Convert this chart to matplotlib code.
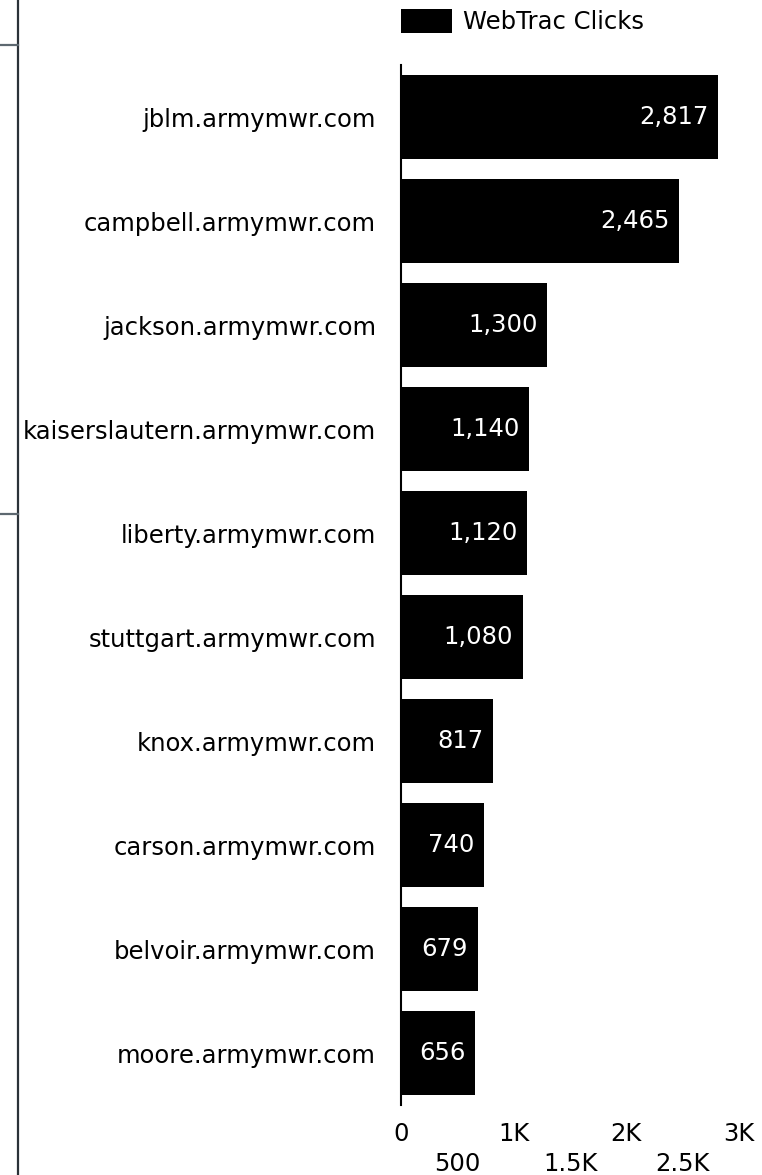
import numpy as np
import matplotlib
matplotlib.use('Agg')
import matplotlib.pyplot as plt
from matplotlib.lines import Line2D
from matplotlib.ticker import FixedLocator, FuncFormatter

sites = ['jblm.armymwr.com', 'campbell.armymwr.com', 'jackson.armymwr.com',
         'kaiserslautern.armymwr.com', 'liberty.armymwr.com', 'stuttgart.armymwr.com',
         'knox.armymwr.com', 'carson.armymwr.com', 'belvoir.armymwr.com',
         'moore.armymwr.com']
clicks = [2817, 2465, 1300, 1140, 1120, 1080, 817, 740, 679, 656]
major_ticks = [0, 1000, 2000, 3000]
minor_ticks = [500, 1500, 2500]
series_name = 'WebTrac Clicks'

W, H = 762, 1175
plt.rcParams['font.family'] = ['DejaVu Sans']
FS = 17.5

fig = plt.figure(figsize=(W / 100, H / 100), dpi=100)
ax = fig.add_axes([401 / W, 1 - 1105 / H, (739 - 401) / W, (1105 - 65) / H])

ypos = np.arange(len(sites))
bars = ax.barh(ypos, clicks, height=0.8, color='black', label=series_name)
ax.set_ylim(len(sites) - 0.5, -0.5)
ax.set_xlim(0, 3000)

for y, v in zip(ypos, clicks):
    ax.text(v - 85, y, '{:,}'.format(v), color='white', ha='right', va='center',
            fontsize=FS)

ax.set_yticks(ypos)
ax.set_yticklabels(sites, fontsize=FS)
ax.tick_params(axis='y', length=0, pad=18)

ax.xaxis.set_major_locator(FixedLocator(major_ticks))
ax.xaxis.set_minor_locator(FixedLocator(minor_ticks))
fmt = FuncFormatter(lambda v, p: '0' if v == 0 else ('{:g}K'.format(v / 1000) if v >= 1000 else '{:g}'.format(v)))
ax.xaxis.set_major_formatter(fmt)
ax.xaxis.set_minor_formatter(fmt)
ax.tick_params(axis='x', which='major', length=0, pad=12, labelsize=FS)
ax.tick_params(axis='x', which='minor', length=0, pad=34, labelsize=FS)

for s in ['top', 'right', 'bottom']:
    ax.spines[s].set_visible(False)
ax.spines['left'].set_linewidth(1.5)

leg = fig.legend(handles=[bars], labels=[series_name], loc='upper left',
                 bbox_to_anchor=(401 / W, 1 - 9 / H), frameon=False, fontsize=FS,
                 borderpad=0, borderaxespad=0,
                 handlelength=2.1, handleheight=1.15, handletextpad=0.45)

# partial frame on the left edge
fig.add_artist(Line2D([18 / W, 18 / W], [0, 1], color='#2b3238', lw=1.6))
fig.add_artist(Line2D([0, 18 / W], [1 - 45 / H, 1 - 45 / H], color='#5d6870', lw=1.6))
fig.add_artist(Line2D([0, 18 / W], [1 - 514 / H, 1 - 514 / H], color='#5d6870', lw=1.6))

fig.savefig('out.png', dpi=100)
